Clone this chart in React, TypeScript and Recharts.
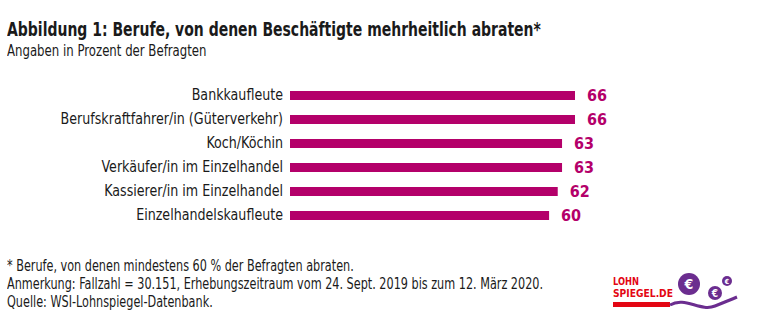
import React from 'react';
import { BarChart, Bar, XAxis, YAxis, LabelList } from 'recharts';

const categories = [
  'Bankkaufleute',
  'Berufskraftfahrer/in (Güterverkehr)',
  'Koch/Köchin',
  'Verkäufer/in im Einzelhandel',
  'Kassierer/in im Einzelhandel',
  'Einzelhandelskaufleute',
];
const values = [66, 66, 63, 63, 62, 60];

const title = 'Abbildung 1: Berufe, von denen Beschäftigte mehrheitlich abraten*';
const subtitle = 'Angaben in Prozent der Befragten';
const notes = [
  '* Berufe, von denen mindestens 60 % der Befragten abraten.',
  'Anmerkung: Fallzahl = 30.151, Erhebungszeitraum vom 24. Sept. 2019 bis zum 12. März 2020.',
  'Quelle: WSI-Lohnspiegel-Datenbank.',
];

const FONT = '"DejaVu Sans Condensed", "Liberation Sans", sans-serif';
const MAGENTA = '#b4006a';
const PURPLE = '#6b2d8f';
const RED = '#e30613';
const INK = '#1a1a1a';

const data = categories.map((name, i) => ({ name, value: values[i] }));

// condensed look: squeeze the glyphs horizontally
const CategoryTick = (props: any) => {
  const { x, y, payload } = props;
  return (
    <text
      transform={`translate(${x},${y}) scale(0.94,1)`}
      dy={5}
      textAnchor="end"
      fill={INK}
      fontSize={15}
      fontFamily={FONT}
    >
      {payload.value}
    </text>
  );
};

const squeeze = (sx: number): React.CSSProperties => ({
  transform: `scaleX(${sx})`,
  transformOrigin: '0 0',
  whiteSpace: 'nowrap',
});

const Logo = () => (
  <svg width={768} height={328} style={{ position: 'absolute', left: 0, top: 0 }}>
    <text x={613} y={285} fill={RED} fontSize={11} fontWeight="bold" fontFamily={FONT} textLength={26} lengthAdjust="spacingAndGlyphs">
      LOHN
    </text>
    <text x={613} y={297} fill={RED} fontSize={11} fontWeight="bold" fontFamily={FONT} textLength={60} lengthAdjust="spacingAndGlyphs">
      SPIEGEL.DE
    </text>
    <rect x={613} y={302} width={57} height={5} fill={RED} />
    <path d="M670,305 C685,296 700,312 715,306 C725,302 730,300 737,297" stroke={PURPLE} strokeWidth={3} fill="none" />
    <circle cx={689} cy={284} r={11} fill={PURPLE} />
    <text x={689} y={289} textAnchor="middle" fill="#fff" fontSize={14} fontWeight="bold" fontFamily={FONT}>€</text>
    <circle cx={715} cy={293} r={7} fill={PURPLE} />
    <text x={715} y={297} textAnchor="middle" fill="#fff" fontSize={10} fontWeight="bold" fontFamily={FONT}>€</text>
    <circle cx={727} cy={281} r={5} fill={PURPLE} />
    <text x={727} y={284} textAnchor="middle" fill="#fff" fontSize={7} fontWeight="bold" fontFamily={FONT}>€</text>
  </svg>
);

const App: React.FC = () => {
  return (
    <div style={{ position: 'absolute', left: 0, top: 0, width: 768, height: 328, background: '#fff', fontFamily: FONT, color: INK, overflow: 'hidden' }}>
      <div style={{ position: 'absolute', left: 7, top: 18, fontSize: 20, fontWeight: 'bold', lineHeight: '22px', ...squeeze(0.777) }}>
        {title}
      </div>
      <div style={{ position: 'absolute', left: 7, top: 42, fontSize: 15, lineHeight: '18px', ...squeeze(0.87) }}>
        {subtitle}
      </div>
      <div style={{ position: 'absolute', left: 0, top: 0 }}>
        <BarChart
          width={768}
          height={328}
          data={data}
          layout="vertical"
          margin={{ top: 83, right: 193, bottom: 101, left: 0 }}
        >
          <XAxis type="number" domain={[0, 66]} hide />
          <YAxis
            type="category"
            dataKey="name"
            width={290}
            axisLine={false}
            tickLine={false}
            tickSize={0}
            tickMargin={7}
            tick={<CategoryTick />}
            interval={0}
          />
          <Bar dataKey="value" fill={MAGENTA} barSize={9} isAnimationActive={false}>
            <LabelList
              dataKey="value"
              position="right"
              offset={12}
              fill={MAGENTA}
              fontSize={16}
              fontWeight="bold"
              fontFamily={FONT}
            />
          </Bar>
        </BarChart>
      </div>
      {notes.map((n, i) => (
        <div
          key={i}
          style={{ position: 'absolute', left: 7, top: 257 + i * 18, fontSize: 15, lineHeight: '18px', ...squeeze(0.833) }}
        >
          {n}
        </div>
      ))}
      <Logo />
    </div>
  );
};

export default App;
